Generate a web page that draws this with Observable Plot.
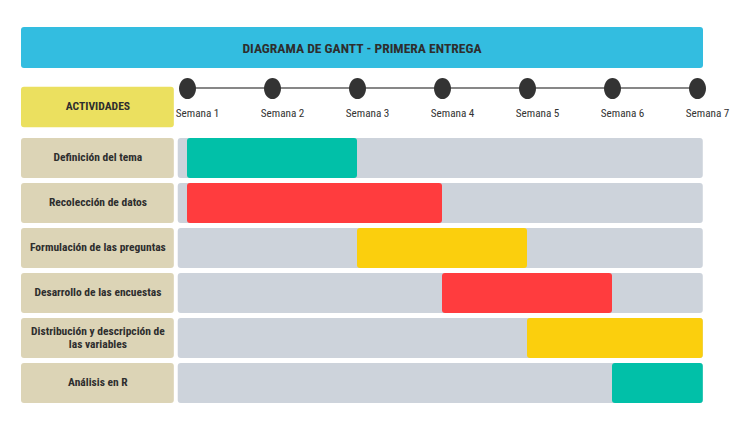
<!DOCTYPE html>
<html>
<head>
<meta charset="utf-8">
<script src="https://cdn.jsdelivr.net/npm/d3@7"></script>
<script src="https://cdn.jsdelivr.net/npm/@observablehq/plot@0.6"></script>
<style>
  body { margin: 0; background: #fff; }
  :root { --f: "Liberation Sans Narrow", "Roboto Condensed", "DejaVu Sans Condensed", "Liberation Sans", sans-serif; }
  #banner {
    margin: 27px 0 0 21px; width: 682px; height: 41px; border-radius: 3px;
    background: #33BDE0; color: #2e2e2e; display: flex; align-items: center; justify-content: center;
    font-family: var(--f); font-weight: bold; font-size: 13.6px;
  }
  #chart svg { display: block; }
</style>
</head>
<body>
<div id="banner"></div>
<div id="chart"></div>
<script>
const title = "DIAGRAMA DE GANTT - PRIMERA ENTREGA";
const headerLabel = "ACTIVIDADES";
const weeks = [1, 2, 3, 4, 5, 6, 7];
const weekLabels = ["Semana 1", "Semana 2", "Semana 3", "Semana 4", "Semana 5", "Semana 6", "Semana 7"];
const tasks = [
  "Definición del tema",
  "Recolección de datos",
  "Formulación de las preguntas",
  "Desarrollo de las encuestas",
  "Distribución y descripción de\nlas variables",
  "Análisis en R"
];
const startWeek = [1, 1, 3, 4, 5, 6];
const endWeek   = [3, 4, 5, 6, 7, 7];
const barColors = ["#01C0A8", "#FF3C3E", "#FBCF0D", "#FF3C3E", "#FBCF0D", "#01C0A8"];

document.getElementById("banner").textContent = title;

const FONT = getComputedStyle(document.documentElement).getPropertyValue("--f");
const rows = tasks.map((t, i) => ({task: t, start: startWeek[i], end: endWeek[i], color: barColors[i]}));
const first = weeks[0], last = weeks[weeks.length - 1];
// layout (in week units) for the label column and the grey track
const labelCol = [first - 1.953, first - 0.155];
const track = [first - 0.109, last + 0.068];
const labelMid = (labelCol[0] + labelCol[1]) / 2;
const H = 361;

// slightly tall elliptical marker, as in the original
const ellipseSymbol = {
  draw(context, size) {
    const ry = Math.sqrt(size / Math.PI), rx = ry * 0.8, k = 0.5523;
    context.moveTo(rx, 0);
    context.bezierCurveTo(rx, ry * k, rx * k, ry, 0, ry);
    context.bezierCurveTo(-rx * k, ry, -rx, ry * k, -rx, 0);
    context.bezierCurveTo(-rx, -ry * k, -rx * k, -ry, 0, -ry);
    context.bezierCurveTo(rx * k, -ry, rx, -ry * k, rx, 0);
    context.closePath();
  }
};

const chart = Plot.plot({
  width: 752,
  height: H,
  margin: 0,
  style: {fontFamily: FONT, background: "transparent"},
  x: {domain: [first, last], range: [187, 697], axis: null},
  y: {type: "band", domain: tasks, range: [68.7, 335.5], paddingInner: 0.11, paddingOuter: 0, axis: null},
  marks: [
    // header box
    Plot.rect([headerLabel], {x1: labelCol[0], x2: labelCol[1], insetTop: 18.7, insetBottom: H - 59.3, fill: "#EBE05F", rx: 3}),
    Plot.text([headerLabel], {x: labelMid, frameAnchor: "top", lineAnchor: "middle", dy: 37.5, text: d => d, fontWeight: "bold", fontSize: 11.6, fill: "#2e2e2e"}),
    // timeline
    Plot.rect([0], {x1: first, x2: last, insetTop: 19.3, insetBottom: H - 20.7, fill: "#555"}),
    Plot.dot(weeks, {x: d => d, frameAnchor: "top", dy: 20, r: 10.6, symbol: ellipseSymbol, fill: "#333", stroke: "none"}),
    Plot.text(weekLabels, {x: (d, i) => weeks[i], frameAnchor: "top", lineAnchor: "middle", dx: 10, dy: 45.3, text: d => d, fontSize: 11.2, fill: "#333"}),
    // label boxes
    Plot.rect(rows, {x1: labelCol[0], x2: labelCol[1], y: "task", fill: "#DCD4B6", rx: 3}),
    Plot.text(rows, {x: labelMid, y: "task", dy: -1.5, text: "task", fontWeight: "bold", fontSize: 11.5, lineHeight: 1.13, fill: "#2e2e2e"}),
    // grey track
    Plot.rect(rows, {x1: track[0], x2: track[1], y: "task", fill: "#CDD3DB", rx: 3}),
    // activity bars
    Plot.rect(rows, {x1: d => d.start, x2: d => d.end === last ? track[1] : d.end, y: "task", fill: "color", rx: 3})
  ]
});
document.getElementById("chart").append(chart);
</script>
</body>
</html>
